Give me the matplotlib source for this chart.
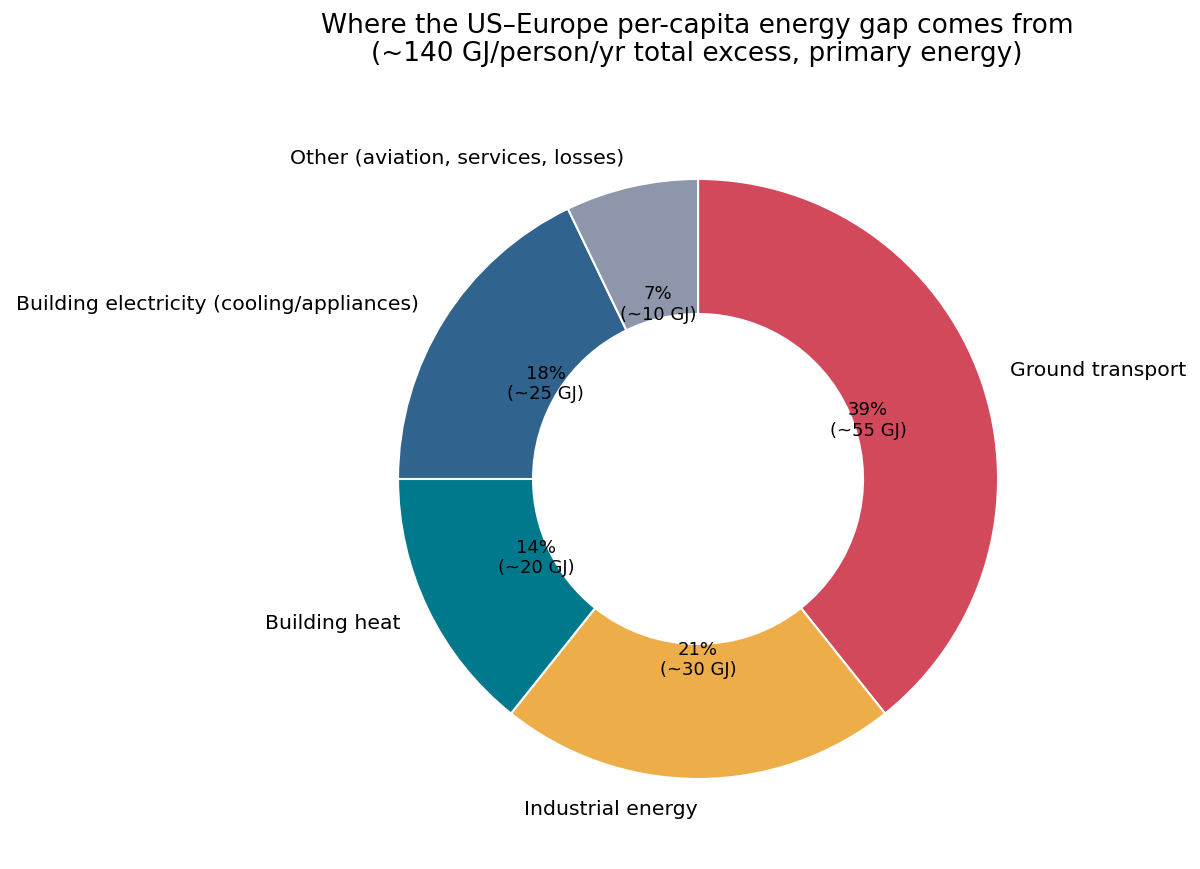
import matplotlib
matplotlib.use("Agg")
import matplotlib.pyplot as plt

# gap components, GJ/person/yr
categories = ["Ground transport", "Industrial energy", "Building heat",
              "Building electricity (cooling/appliances)",
              "Other (aviation, services, losses)"]
values = [55, 30, 20, 25, 10]
colors = ["#d1495b", "#edae49", "#00798c", "#30638e", "#8d96ab"]

total = sum(values)


def fmt(p):
    return "{:.0f}%\n(~{:.0f} GJ)".format(p, p * total / 100.0)


fig = plt.figure(figsize=(12, 8.7), dpi=100)
ax = fig.add_axes([0.2817, 0.0345, 0.6, 0.8276])

ax.pie(values, labels=categories, colors=colors, startangle=90,
       counterclock=False, autopct=fmt, pctdistance=0.6, labeldistance=1.1,
       wedgeprops=dict(width=0.45, edgecolor="white", linewidth=1.5),
       textprops=dict(fontsize=14.7))
for t in ax.texts:
    if "GJ" in t.get_text():
        t.set_fontsize(13)
        t.set_linespacing(1.15)

ax.set_xlim(-1.2, 1.2)
ax.set_ylim(-1.2, 1.2)
ax.set_aspect("equal")

fig.suptitle("Where the US\u2013Europe per-capita energy gap comes from\n"
             "(~140 GJ/person/yr total excess, primary energy)",
             fontsize=19, x=0.581, y=0.985, linespacing=1.1)

fig.savefig("out.png", dpi=100)
